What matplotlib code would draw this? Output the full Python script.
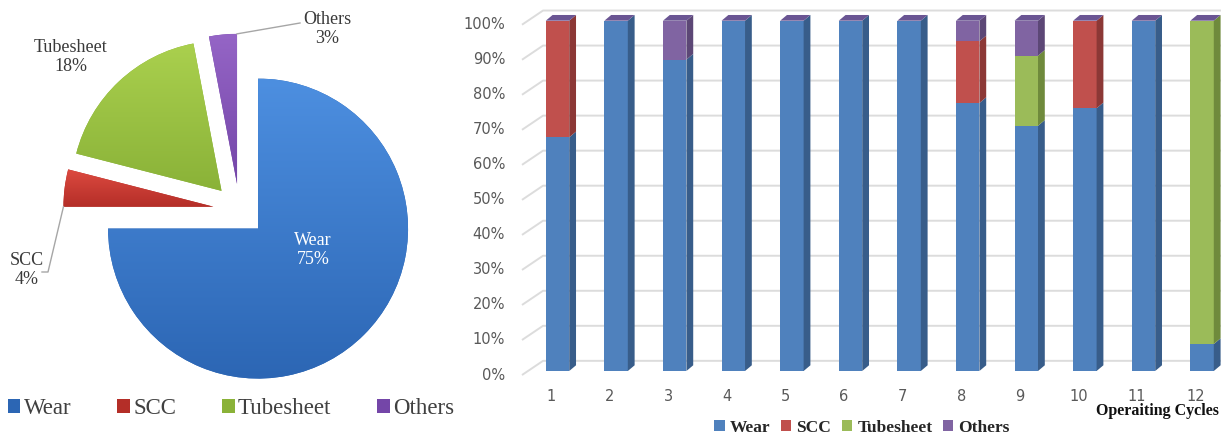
import matplotlib
matplotlib.use("Agg")
import matplotlib.pyplot as plt
import numpy as np
from matplotlib.colors import to_rgb
from matplotlib.patches import Patch, Polygon

# Failure mechanisms and their overall share (%)
MECHANISMS = ["Wear", "SCC", "Tubesheet", "Others"]
PIE_SHARE = [75, 4, 18, 3]

# Share of each mechanism per operating cycle (%)
CYCLES = [1, 2, 3, 4, 5, 6, 7, 8, 9, 10, 11, 12]
WEAR = [66.7, 100, 88.9, 100, 100, 100, 100, 76.5, 70, 75, 100, 7.7]
SCC = [33.3, 0, 0, 0, 0, 0, 0, 17.6, 0, 25, 0, 0]
TUBESHEET = [0, 0, 0, 0, 0, 0, 0, 0, 20, 0, 0, 92.3]
OTHERS = [0, 0, 11.1, 0, 0, 0, 0, 5.9, 10, 0, 0, 0]
Y_TICKS = [0, 10, 20, 30, 40, 50, 60, 70, 80, 90, 100]

# pie slice gradients (top, bottom)
PIE_GRAD = [("#4d8fe0", "#2c66b4"), ("#dd4a40", "#b42e28"),
            ("#aad04e", "#8ab238"), ("#9565c6", "#7446a8")]
# bar faces (front, side)
BAR_FRONT = ["#4f81bd", "#c0504d", "#9bbb59", "#8064a2"]
BAR_SIDE = ["#385d8a", "#8c3836", "#6f8a3c", "#5c4776"]
BAR_TOP = "#6a5593"
GRID = "#dcdcdc"
TICK = "#595959"
LEADER = "#a6a6a6"

SERIF = "Liberation Serif"

fig = plt.figure(figsize=(12.21, 4.34), dpi=100)

# ---------------- pie (axes in pixel units, y up) ----------------
ax_pie = fig.add_axes([0, 0, 460 / 1221, 1])
ax_pie.axis("off")

center = (239.5, 224)
radius = 150
# explode offsets are in data units, so scale by the radius
wedges, _ = ax_pie.pie(PIE_SHARE, explode=[0.175 * radius] * 4, startangle=90,
                       counterclock=False, center=center, radius=radius,
                       colors=[g[1] for g in PIE_GRAD],
                       wedgeprops=dict(linewidth=0))

for w, (c_top, c_bot) in zip(wedges, PIE_GRAD):
    ext = w.get_path().get_extents()
    t = np.linspace(0, 1, 200)[:, None, None]
    grad = (1 - t) * np.array(to_rgb(c_bot)) + t * np.array(to_rgb(c_top))
    im = ax_pie.imshow(grad, extent=[ext.x0, ext.x1, ext.y0, ext.y1],
                       origin="lower", aspect="auto", zorder=2)
    im.set_clip_path(w)
ax_pie.set_xlim(0, 460)
ax_pie.set_ylim(0, 434)
ax_pie.set_aspect("equal")


def wedge_point(w, angle):
    a = np.deg2rad(angle)
    return (w.center[0] + w.r * np.cos(a), w.center[1] + w.r * np.sin(a))


# leader lines for the small outer labels
p = wedge_point(wedges[3], wedges[3].theta1)
ax_pie.plot([p[0], 300], [p[1], 411], color=LEADER, lw=1, zorder=3)
p = wedge_point(wedges[1], wedges[1].theta2)
ax_pie.plot([p[0], 48, 42], [p[1], 162, 162], color=LEADER, lw=1, zorder=3)

label_pos = [(313, 184), (27, 164), (71, 377), (327, 405)]
for name, share, (x, y) in zip(MECHANISMS, PIE_SHARE, label_pos):
    ax_pie.text(x, y, f"{name}\n{share}%", ha="center", va="center",
                fontsize=13, family=SERIF, linespacing=1.15,
                color="white" if name == "Wear" else "#3a3a3a", zorder=4)

ax_pie.legend(handles=[Patch(facecolor=g[1], edgecolor="none") for g in PIE_GRAD],
              labels=MECHANISMS, ncol=4, loc="center",
              bbox_to_anchor=(231 / 460, 25 / 434), frameon=False,
              prop=dict(family=SERIF, size=16.5), labelcolor="#404040",
              handlelength=0.55, handleheight=0.55, handletextpad=0.15,
              columnspacing=2.0, borderpad=0)

# ---------------- 3D-looking stacked bars ----------------
ax = fig.add_axes([460 / 1221, 54 / 434, 761 / 1221, 375 / 434])
ax.set_xlim(-0.664, 12.323)
ax.set_ylim(-2.57, 104.48)
ax.axis("off")

bar_w = 0.40
dx, dy = 0.116, 1.63

# back-wall gridlines with a slanted floor/side edge
for v in Y_TICKS:
    ax.plot([0.394, 0.753, 12.4], [v - 1.15, v + 2.9, v + 2.9],
            color=GRID, lw=1.4, zorder=1, clip_on=False, solid_capstyle="butt")
    ax.text(0.104, v - 1.15, f"{v}%", ha="right", va="center",
            fontsize=10.5, color=TICK, clip_on=False)

x = np.array(CYCLES, dtype=float)
bottom = np.zeros(len(CYCLES))
for series, front, side in zip([WEAR, SCC, TUBESHEET, OTHERS], BAR_FRONT, BAR_SIDE):
    vals = np.array(series, dtype=float)
    ax.bar(x, vals, bar_w, bottom=bottom, color=front, linewidth=0, zorder=3)
    for xi, b, h in zip(x, bottom, vals):
        if h <= 0:
            continue
        xr = xi + bar_w / 2
        ax.add_patch(Polygon([(xr, b), (xr + dx, b + dy), (xr + dx, b + h + dy), (xr, b + h)],
                             closed=True, facecolor=side, edgecolor="none", zorder=3))
    bottom += vals

for xi, top in zip(x, bottom):
    xl, xr = xi - bar_w / 2, xi + bar_w / 2
    ax.add_patch(Polygon([(xl, top), (xl + dx, top + dy), (xr + dx, top + dy), (xr, top)],
                         closed=True, facecolor=BAR_TOP, edgecolor="none", zorder=3,
                         clip_on=False))

for c in CYCLES:
    ax.text(c - 0.11, -7.4, str(c), ha="center", va="center",
            fontsize=10.5, color=TICK, clip_on=False)

fig.text(1157 / 1221, 23 / 434, "Operaiting Cycles", ha="center", va="center",
         fontsize=11.5, fontweight="bold", family=SERIF, color="#111111")

fig.legend(handles=[Patch(facecolor=c, edgecolor="none") for c in BAR_FRONT],
           labels=MECHANISMS, ncol=4, loc="center",
           bbox_to_anchor=(862 / 1221, 6 / 434), frameon=False,
           prop=dict(family=SERIF, size=12.5, weight="bold"), labelcolor="#262626",
           handlelength=0.6, handleheight=0.6, handletextpad=0.3,
           columnspacing=0.6, borderpad=0)

fig.savefig("out.png", dpi=100, facecolor="white")
